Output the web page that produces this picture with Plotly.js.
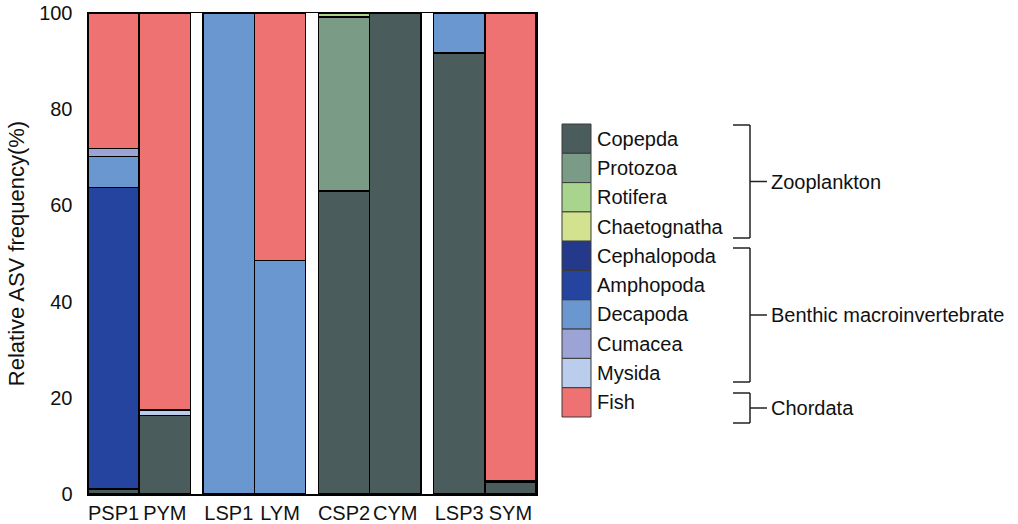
<!DOCTYPE html>
<html>
<head>
<meta charset="utf-8">
<script src="https://cdn.plot.ly/plotly-3.0.1.min.js"></script>
<style>html,body{margin:0;padding:0;background:#fff;}#chart{width:1018px;height:524px;}</style>
</head>
<body>
<div id="chart"></div>
<script>
// Samples and their x positions (pairs separated by small gaps)
const samples = ["PSP1", "PYM", "LSP1", "LYM", "CSP2", "CYM", "LSP3", "SYM"];
const xpos = [0, 1, 2.25, 3.25, 4.5, 5.5, 6.75, 7.75];

// Taxa (bottom to top in the stack) and colours
const taxa = ["Copepda", "Protozoa", "Rotifera", "Chaetognatha", "Cephalopoda", "Amphopoda", "Decapoda", "Cumacea", "Mysida", "Fish"];
const colors = ["#4a5c5b", "#7a9c86", "#a8d48e", "#d2e28e", "#24398a", "#2444a0", "#6a97d0", "#9ca4d6", "#bacdec", "#ee7272"];

// Relative ASV frequency (%) per taxon, one value per sample
const copepda      = [1.0, 16.3, 0, 0, 63.0, 100, 91.7, 2.5];
const protozoa     = [0, 0, 0, 0, 36.2, 0, 0, 0];
const rotifera     = [0, 0, 0, 0, 0.8, 0, 0, 0];
const chaetognatha = [0, 0, 0, 0, 0, 0, 0, 0];
const cephalopoda  = [0, 0, 0, 0, 0, 0, 0, 0.3];
const amphopoda    = [62.7, 0, 0, 0, 0, 0, 0, 0];
const decapoda     = [6.5, 0, 100, 48.5, 0, 0, 8.3, 0];
const cumacea      = [1.6, 0, 0, 0, 0, 0, 0, 0];
const mysida       = [0, 1.2, 0, 0, 0, 0, 0, 0];
const fish         = [28.2, 82.5, 0, 51.5, 0, 0, 0, 97.2];

const series = [copepda, protozoa, rotifera, chaetognatha, cephalopoda, amphopoda, decapoda, cumacea, mysida, fish];

// Groups for the legend brackets: [label, first taxon index, last taxon index]
const groups = [["Zooplankton", 0, 3], ["Benthic macroinvertebrate", 4, 8], ["Chordata", 9, 9]];

const traces = taxa.map((name, i) => ({
  type: "bar",
  name: name,
  x: xpos,
  y: series[i].map(v => v === 0 ? null : v),
  width: 1,
  marker: {color: colors[i], line: {color: "#000", width: 1.5}},
  showlegend: false,
  hoverinfo: "name+y"
}));

// pixel -> paper helpers (plot area: x 88..536, y 13..494)
const L = 88, R = 536, T = 13, B = 494;
const px = v => (v - L) / (R - L);
const py = v => (B - v) / (B - T);

const FAM = "Liberation Sans, Arial, sans-serif";
const shapes = [];
const annotations = [];
const boxTop = 124, boxH = 29.3, boxL = 562, boxR = 591;
const font = {family: FAM, size: 20, color: "#111"};

taxa.forEach((name, i) => {
  const y0 = boxTop + i * boxH, y1 = y0 + boxH;
  shapes.push({type: "rect", xref: "paper", yref: "paper", x0: px(boxL), x1: px(boxR), y0: py(y1), y1: py(y0),
    fillcolor: colors[i], line: {color: "#3a3a3a", width: 1}});
  annotations.push({xref: "paper", yref: "paper", x: px(595), y: py((y0 + y1) / 2), text: name,
    showarrow: false, xanchor: "left", yanchor: "middle", font: font});
});

const brX = 750, armX = 733, tickX = 767;
const brackets = [[125, 238], [248, 382], [393, 423]];
groups.forEach((g, k) => {
  const [top, bot] = brackets[k];
  const mid = (top + bot) / 2;
  const line = {color: "#222", width: 1.5};
  shapes.push({type: "line", xref: "paper", yref: "paper", x0: px(brX), x1: px(brX), y0: py(top), y1: py(bot), line: line});
  shapes.push({type: "line", xref: "paper", yref: "paper", x0: px(armX), x1: px(brX), y0: py(top), y1: py(top), line: line});
  shapes.push({type: "line", xref: "paper", yref: "paper", x0: px(armX), x1: px(brX), y0: py(bot), y1: py(bot), line: line});
  shapes.push({type: "line", xref: "paper", yref: "paper", x0: px(brX), x1: px(tickX), y0: py(mid), y1: py(mid), line: line});
  annotations.push({xref: "paper", yref: "paper", x: px(769), y: py(mid), text: g[0],
    showarrow: false, xanchor: "left", yanchor: "middle", font: font});
});

const layout = {
  width: 1018, height: 524,
  margin: {l: L, r: 1018 - R, t: T, b: 524 - B, pad: 0},
  paper_bgcolor: "#fff", plot_bgcolor: "#fff",
  barmode: "stack",
  showlegend: false,
  xaxis: {
    range: [-0.5, 8.25], tickvals: xpos, ticktext: samples,
    showline: true, mirror: true, linecolor: "#000", linewidth: 1.5,
    showgrid: false, zeroline: false, ticks: "",
    tickfont: {family: FAM, size: 20, color: "#111"}
  },
  yaxis: {
    range: [0, 100], tickvals: [0, 20, 40, 60, 80, 100],
    showline: true, mirror: true, linecolor: "#000", linewidth: 1.5,
    showgrid: false, zeroline: false, ticks: "", ticklabelstandoff: 10,
    tickfont: {family: FAM, size: 20, color: "#111"},
    title: {text: "Relative ASV frequency(%)", standoff: 8,
      font: {family: FAM, size: 22, color: "#111"}}
  },
  shapes: shapes,
  annotations: annotations
};

Plotly.newPlot("chart", traces, layout, {displayModeBar: false, staticPlot: true});
</script>
</body>
</html>
